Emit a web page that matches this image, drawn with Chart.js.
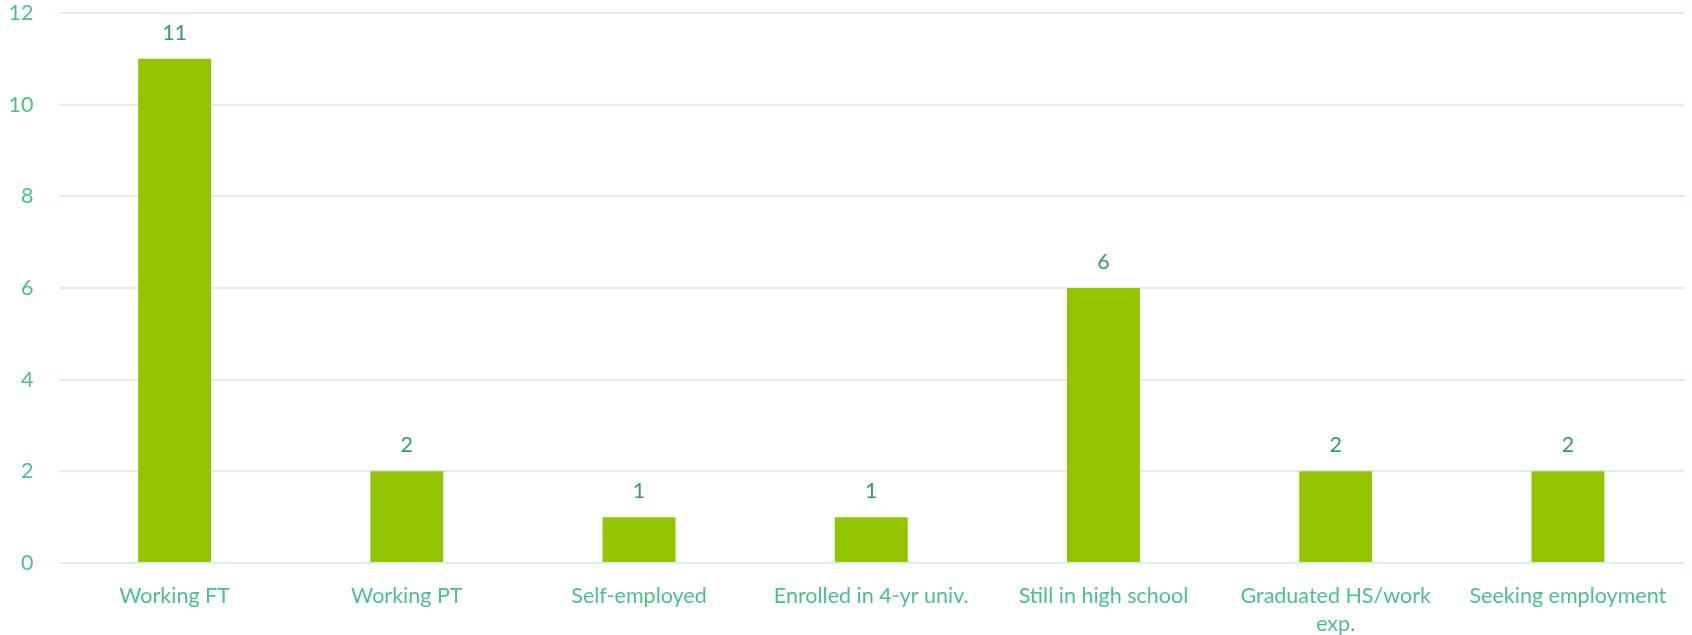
<!DOCTYPE html>
<html>
<head>
<meta charset="utf-8">
<script src="https://cdn.jsdelivr.net/npm/chart.js@4/dist/chart.umd.min.js"></script>
<style>
  html, body { margin: 0; padding: 0; background: #fff; }
  #wrap { width: 1692px; height: 635px; }
</style>
</head>
<body>
<div id="wrap"><canvas id="chart"></canvas></div>
<script>
const categories = [
  'Working FT',
  'Working PT',
  'Self-employed',
  'Enrolled in 4-yr univ.',
  'Still in high school',
  ['Graduated HS/work', 'exp.'],
  'Seeking employment',
]
const counts = [11, 2, 1, 1, 6, 2, 2]
const yTicks = [0, 2, 4, 6, 8, 10, 12]

const FONT = 'Lato, "Open Sans", sans-serif'
const FONT_SIZE = 21.5

// Value labels over each bar
const valueLabels = {
  id: 'valueLabels',
  afterDatasetsDraw(chart) {
    const ctx = chart.ctx
    const meta = chart.getDatasetMeta(0)
    ctx.save()
    ctx.font = `${FONT_SIZE}px ${FONT}`
    ctx.fillStyle = '#3a9a6b'
    ctx.textAlign = 'center'
    ctx.textBaseline = 'alphabetic'
    meta.data.forEach((bar, i) => {
      const { x, y } = bar.getProps(['x', 'y'], true)
      ctx.fillText(String(counts[i]), x, y - 19)
    })
    ctx.restore()
  },
}

new Chart(document.getElementById('chart'), {
  type: 'bar',
  data: {
    labels: categories,
    datasets: [{
      data: counts,
      backgroundColor: '#93c400',
      borderWidth: 0,
      categoryPercentage: 1,
      barPercentage: 0.314,
    }],
  },
  options: {
    responsive: true,
    maintainAspectRatio: false,
    animation: false,
    layout: { padding: { top: 0, right: 8, left: 0, bottom: 0 } },
    plugins: {
      legend: { display: false },
      tooltip: { enabled: false },
    },
    scales: {
      x: {
        grid: { display: false, drawTicks: false },
        border: { display: false },
        ticks: {
          color: '#4cbf8a',
          font: { family: FONT, size: FONT_SIZE, lineHeight: 1.26 },
          maxRotation: 0,
          autoSkip: false,
          padding: 20,
        },
        afterFit: axis => {
          axis.height = 72
          axis.paddingLeft = 0
          axis.paddingRight = 0
        },
      },
      y: {
        min: 0,
        max: 12,
        afterBuildTicks: axis => { axis.ticks = yTicks.map(v => ({ value: v })) },
        grid: { color: '#dcf0ea', lineWidth: 2, drawTicks: false },
        border: { display: false },
        ticks: {
          color: '#4cbf8a',
          font: { family: FONT, size: FONT_SIZE },
          padding: 25,
        },
        afterFit: axis => {
          axis.width = 58.5
          axis.paddingTop = 13
          axis.paddingBottom = 13
        },
      },
    },
  },
  plugins: [valueLabels],
})
</script>
</body>
</html>
